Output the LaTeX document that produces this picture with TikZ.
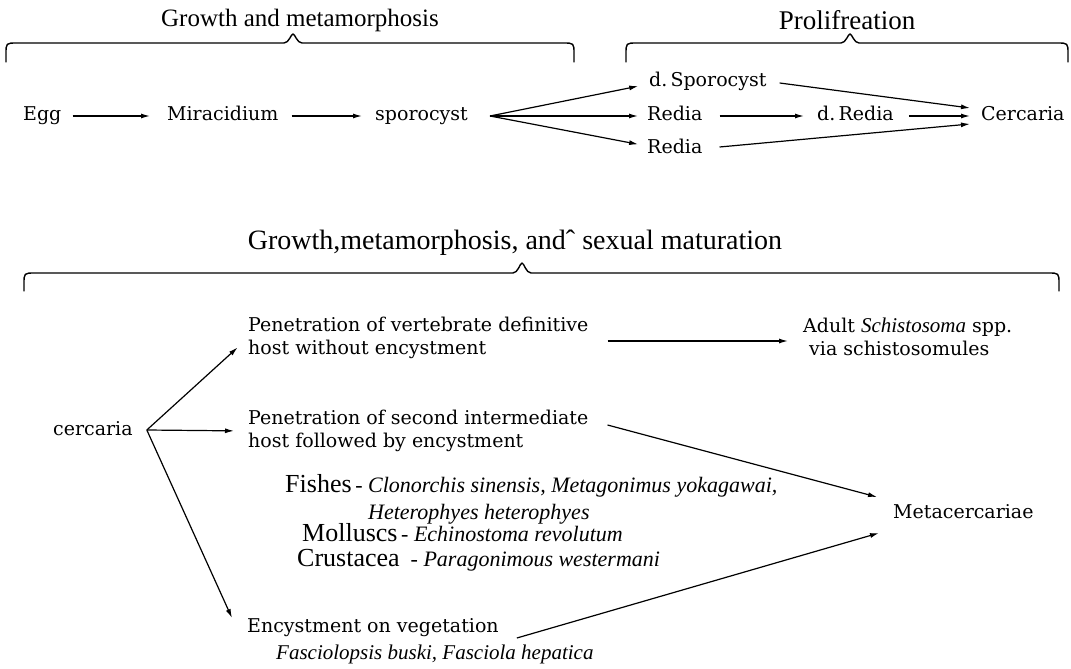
\documentclass[tikz,border=0pt]{standalone}
\usepackage{fontspec}
\setmainfont{Liberation Serif}
\newfontfamily\lbl{DejaVu Serif}
\newfontfamily\ttl{Liberation Serif}
\usetikzlibrary{arrows.meta}
\tikzset{
  lab/.style={font=\lbl\fontsize{19}{23.5}\selectfont, inner sep=0pt, anchor=west, align=left},
  blab/.style={font=\lbl\fontsize{19}{23.5}\selectfont, inner sep=0pt, anchor=base west},
  ttlnode/.style={font=\ttl\fontsize{25}{30}\selectfont, inner sep=0pt},
  grp/.style={font=\ttl\fontsize{26}{30}\selectfont, inner sep=0pt, anchor=base west},
  spc/.style={font=\ttl\itshape\fontsize{22}{26}\selectfont, inner sep=0pt, anchor=base west},
  arr/.style={line width=1.2pt, -{Latex[length=9pt,width=5pt]}},
  brc/.style={line width=1.4pt, line cap=round, line join=round},
}
\newcommand{\mybrace}[6]{% x1 x2 xt yt yb ytip
  \draw[brc] (#1,#5) -- (#1,#4+11) .. controls (#1,#4) .. (#1+11,#4)
    -- (#3-9,#4) .. controls (#3-4,#4) and (#3-2,#6) .. (#3,#6)
    .. controls (#3+2,#6) and (#3+4,#4) .. (#3+9,#4)
    -- (#2-11,#4) .. controls (#2,#4) .. (#2,#4+11) -- (#2,#5);}
\begin{document}
\begin{tikzpicture}[x=1pt,y=-1pt]
\useasboundingbox[fill=white] (0,0) rectangle (1071,669);
% titles and braces
\node[ttlnode] (t1) at (300,20) {Growth and metamorphosis};
\node[ttlnode, font=\ttl\fontsize{27}{30}\selectfont] (t2) at (847,20) {Prolifreation};
\node[ttlnode, font=\ttl\fontsize{28}{30}\selectfont] (t3) at (515,243) {Growth,metamorphosis, and\char"02C6{} sexual maturation};
\mybrace{6}{574}{293}{43}{62}{34}
\mybrace{626}{1068}{850}{43}{62}{34}
\mybrace{24}{1059}{522}{273}{291}{263}
% top row
\node[blab] (egg) at (23,121) {Egg};
\node[blab] (mir) at (167,121) {Miracidium};
\node[blab] (spo) at (375,121) {sporocyst};
\node[blab] (dspo) at (649,87) {d.\,Sporocyst};
\node[blab] (red1) at (647,121) {Redia};
\node[blab] (red2) at (647,153) {Redia};
\node[blab] (dred) at (817,121) {d.\,Redia};
\node[blab] (cer) at (981,121) {Cercaria};
\coordinate (f1) at ([xshift=22pt,yshift=5pt]spo.base east);
\draw[arr, shorten <=11pt, shorten >=17pt] ([yshift=5pt]egg.base east) -- ([yshift=5pt]mir.base west);
\draw[arr, shorten <=13pt, shorten >=13pt] ([yshift=5pt]mir.base east) -- ([yshift=5pt]spo.base west);
\draw[arr, shorten >=11pt] (f1) -- ([yshift=3pt]dspo.base west);
\draw[arr, shorten >=9pt] (f1) -- ([yshift=5pt]red1.base west);
\draw[arr, shorten >=9pt] (f1) -- ([yshift=7pt]red2.base west);
\draw[arr, shorten <=17pt, shorten >=13pt] ([yshift=5pt]red1.base east) -- ([yshift=5pt]dred.base west);
\draw[arr, shorten <=15pt, shorten >=11pt] ([yshift=5pt]dred.base east) -- ([yshift=5pt]cer.base west);
\draw[arr] ([xshift=13pt,yshift=4pt]dspo.base east) -- ([xshift=-11pt,yshift=13pt]cer.base west);
\draw[arr] ([xshift=17pt,yshift=6pt]red2.base east) -- ([xshift=-11pt,yshift=-3pt]cer.base west);
% bottom part
\node[blab] (cerc) at (53,435) {cercaria};
\node[lab] (pen1) at (248,338) {Penetration of vertebrate definitive\\host without encystment};
\node[lab] (adult) at (803,337) {Adult {\ttl\itshape\fontsize{21}{23}\selectfont Schistosoma} spp.\\\hspace{6pt}via schistosomules};
\node[lab] (pen2) at (248,431) {Penetration of second intermediate\\host followed by encystment};
\node[blab] (meta) at (893,518) {Metacercariae};
\node[grp] (fish) at (285,492) {Fishes{\itshape\fontsize{22}{24}\selectfont\,- Clonorchis sinensis, Metagonimus yokagawai,}};
\node[spc] (het) at (368,519) {Heterophyes heterophyes};
\node[grp] (moll) at (302,541) {Molluscs{\itshape\fontsize{22}{24}\selectfont\,- Echinostoma revolutum}};
\node[grp] (crus) at (297,566) {Crustacea{\itshape\fontsize{22}{24}\selectfont\ \ - Paragonimous westermani}};
\node[lab] (enc) at (247,628) {Encystment on vegetation};
\node[spc, font=\ttl\itshape\fontsize{21}{24}\selectfont] (fasc) at (276,659) {Fasciolopsis buski, Fasciola hepatica};
\coordinate (f2) at ([xshift=14pt,yshift=5pt]cerc.base east);
\draw[arr, shorten >=14pt] (f2) -- (pen1.west);
\draw[arr, shorten >=14pt] (f2) -- (pen2.west);
\draw[arr] (f2) -- ([xshift=-15pt,yshift=10pt]enc.west);
\draw[arr, shorten <=19pt, shorten >=15pt] ([yshift=-3pt]pen1.east) -- ([yshift=-3pt]pen1.east -| adult.west);
\draw[arr] ([xshift=19pt,yshift=6pt]pen2.east) -- ([xshift=-16pt,yshift=21pt]meta.base west);
\draw[arr] ([xshift=18pt,yshift=-10pt]enc.east) -- ([xshift=-14pt,yshift=-15pt]meta.base west);
\end{tikzpicture}
\end{document}
